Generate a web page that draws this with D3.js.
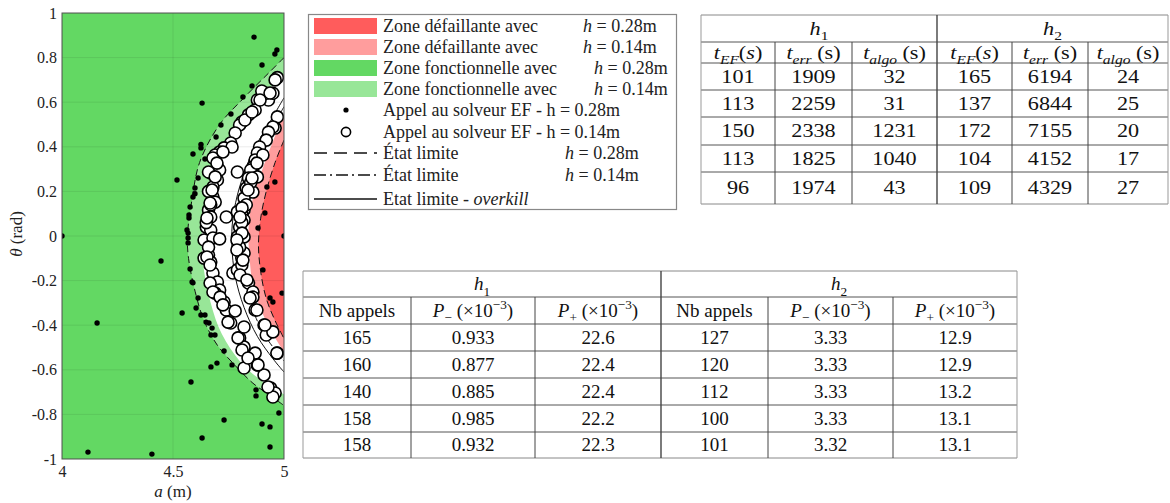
<!DOCTYPE html>
<html>
<head>
<meta charset="utf-8">
<script src="https://cdn.jsdelivr.net/npm/d3@7"></script>
<style>
  body { margin:0; background:#fff; }
  svg { display:block; }
  svg text { font-family:"Liberation Serif","DejaVu Serif","Noto Serif",serif; }
</style>
</head>
<body>
<svg id="fig" width="1170" height="503"></svg>
<script>
// ---- data: curves are [a (m), theta (rad)] ----
const limit28Outer = [[5.0,0.80],[4.93,0.73],[4.82,0.62],[4.71,0.50],[4.62,0.33],[4.585,0.16],[4.565,0.0],[4.57,-0.10],[4.60,-0.25],[4.64,-0.38],[4.70,-0.49],[4.77,-0.57],[4.86,-0.66],[4.93,-0.71],[5.0,-0.76]];
const zone14Green = [[5.0,0.72],[4.93,0.66],[4.84,0.57],[4.76,0.46],[4.69,0.33],[4.65,0.18],[4.63,0.02],[4.635,-0.12],[4.67,-0.30],[4.72,-0.44],[4.80,-0.56],[4.90,-0.65],[5.0,-0.71]];
const zone14Red = [[5.0,0.55],[4.96,0.45],[4.91,0.32],[4.86,0.17],[4.84,0.03],[4.845,-0.10],[4.86,-0.22],[4.90,-0.34],[4.95,-0.44],[5.0,-0.52]];
const limit28Inner = [[5.0,0.43],[4.96,0.33],[4.92,0.20],[4.895,0.08],[4.885,-0.04],[4.895,-0.16],[4.92,-0.28],[4.96,-0.38],[5.0,-0.46]];
const limitOverkill = [[5.0,0.62],[4.93,0.50],[4.86,0.38],[4.80,0.22],[4.77,0.08],[4.765,-0.04],[4.78,-0.18],[4.82,-0.32],[4.88,-0.45],[4.95,-0.55],[5.0,-0.61]];
const limit14 = [[5.0,0.58],[4.94,0.47],[4.88,0.34],[4.835,0.18],[4.815,0.03],[4.815,-0.10],[4.835,-0.24],[4.875,-0.37],[4.93,-0.47],[5.0,-0.56]];

// FE solver calls, h = 0.28 (black dots)
const calls28 = [
  [4.865,0.892],[4.968,0.834],[4.959,0.816],[4.901,0.767],[4.856,0.673],[4.815,0.623],[4.631,0.596],
  [4.761,0.547],[4.716,0.498],[4.694,0.444],[4.626,0.395],[4.590,0.368],[4.644,0.345],[4.518,0.251],
  [4.613,0.260],[4.599,0.215],[4.590,0.175],[4.577,0.130],[4.572,0.094],[4.572,0.081],[4.563,0.027],
  [4.568,0.013],[4.568,-0.009],[4.0,0.0],[5.0,0.0],[4.883,0.036],[4.959,0.242],[4.923,0.220],[4.914,0.103],
  [4.446,-0.112],[4.577,-0.148],[4.586,-0.206],[4.590,-0.210],[4.613,-0.278],[4.541,-0.345],[4.604,-0.323],
  [4.626,-0.354],[4.644,-0.354],[4.649,-0.386],[4.662,-0.390],[4.676,-0.413],[4.671,-0.444],[4.689,-0.444],
  [4.158,-0.390],[4.730,-0.516],[4.698,-0.570],[4.671,-0.587],[4.766,-0.578],[4.581,-0.655],[4.874,-0.690],
  [4.874,-0.717],[4.977,-0.794],[4.730,-0.825],[4.901,-0.843],[4.937,-0.856],[4.631,-0.906],[4.937,-0.946],
  [4.117,-0.969],[4.405,-0.978],[4.905,-0.152],[4.991,-0.256],[4.937,-0.278],[4.950,-0.296],[4.568,-0.031],
  [4.599,0.190],[4.626,0.410]
];
// FE solver calls, h = 0.14 (open circles)
const calls14 = [
  [4.97,0.71],[4.96,0.70],[4.93,0.61],[4.88,0.61],[4.92,0.64],[4.95,0.64],[4.90,0.65],[4.87,0.565],
  [4.84,0.543],[4.81,0.511],[4.80,0.498],[4.78,0.462],[4.76,0.417],[4.73,0.395],[4.71,0.377],[4.69,0.363],
  [4.68,0.35],[4.70,0.309],[4.67,0.283],[4.71,0.296],[4.70,0.251],[4.68,0.22],[4.68,0.175],[4.69,0.152],
  [4.66,0.117],[4.67,0.085],[4.65,0.04],[4.67,0.027],[4.64,-0.018],[4.68,-0.009],[4.71,-0.013],[4.74,0.085],
  [4.79,0.287],
  [4.97,0.534],[4.96,0.484],[4.95,0.489],[4.93,0.466],[4.92,0.43],[4.89,0.399],[4.88,0.372],[4.87,0.341],
  [4.86,0.309],[4.85,0.296],[4.88,0.265],[4.84,0.26],[4.83,0.215],[4.86,0.197],[4.82,0.17],[4.82,0.117],
  [4.81,0.103],[4.79,0.108],[4.82,0.072],[4.80,0.04],[4.79,-0.004],[4.82,-0.004],
  [4.66,-0.085],[4.67,-0.117],[4.64,-0.099],[4.68,-0.166],[4.70,-0.206],[4.71,-0.242],[4.69,-0.256],
  [4.73,-0.296],[4.74,-0.332],[4.78,-0.336],[4.76,-0.39],[4.80,-0.457],[4.82,-0.498],[4.84,-0.543],
  [4.82,-0.592],[4.88,-0.578],[4.91,-0.623],[4.94,-0.682],[4.96,-0.704],[4.95,-0.722],
  [4.77,-0.166],[4.79,-0.152],[4.81,-0.099],[4.82,-0.076],[4.84,-0.211],[4.86,-0.251],[4.86,-0.274],
  [4.87,-0.332],[4.82,-0.408],[4.91,-0.399],[4.92,-0.444],[4.87,-0.525],[4.97,-0.525],[4.95,-0.43],
  [4.66,0.20],[4.67,0.14],[4.65,0.06],[4.66,-0.05],[4.81,0.06],[4.80,-0.05],[4.81,-0.13],[4.83,0.14],[4.85,0.24],
  [4.698,0.327],[4.66,0.287],[4.69,0.265],[4.676,0.206],[4.667,0.148],[4.653,0.081],[4.766,0.399],[4.725,0.377],
  [4.824,0.52],[4.856,0.556],[4.892,0.61],[4.937,0.641],[4.905,0.363],[4.878,0.327],[4.856,0.26],[4.838,0.206],
  [4.811,0.126],[4.802,0.085],[4.811,0.013],[4.788,-0.018],
  [4.653,-0.094],[4.667,-0.13],[4.667,-0.211],[4.68,-0.251],[4.712,-0.274],[4.725,-0.309],[4.748,-0.386],
  [4.793,-0.457],[4.811,-0.511],[4.838,-0.547],[4.883,-0.578],[4.928,-0.677],[4.788,-0.063],[4.815,-0.108],
  [4.802,-0.175],[4.833,-0.197],[4.847,-0.278],[4.878,-0.332],[4.914,-0.399],[4.968,-0.525]
];

const xTicks = [4, 4.5, 5];
const xTickLabels = ["4", "4.5", "5"];
const yTicks = [-1, -0.8, -0.6, -0.4, -0.2, 0, 0.2, 0.4, 0.6, 0.8, 1];
const yTickLabels = ["-1", "-0.8", "-0.6", "-0.4", "-0.2", "0", "0.2", "0.4", "0.6", "0.8", "1"];

const legendLabels = ["Zone défaillante avec", "Zone défaillante avec", "Zone fonctionnelle avec", "Zone fonctionnelle avec",
  "Appel au solveur EF - h = 0.28m", "Appel au solveur EF - h = 0.14m", "État limite", "État limite", "Etat limite - "];
const legendMath = ["0.28m", "0.14m", "0.28m", "0.14m", null, null, "0.28m", "0.14m", null];

// tables
const t1Rows = [
  [101, 1909, 32, 165, 6194, 24],
  [113, 2259, 31, 137, 6844, 25],
  [150, 2338, 1231, 172, 7155, 20],
  [113, 1825, 1040, 104, 4152, 17],
  [96, 1974, 43, 109, 4329, 27]
];
const t2Rows = [
  ["165", "0.933", "22.6", "127", "3.33", "12.9"],
  ["160", "0.877", "22.4", "120", "3.33", "12.9"],
  ["140", "0.885", "22.4", "112", "3.33", "13.2"],
  ["158", "0.985", "22.2", "100", "3.33", "13.1"],
  ["158", "0.932", "22.3", "101", "3.32", "13.1"]
];

// ---- drawing ----
const svg = d3.select("#fig");
const C = { red: "#ff5c5c", lred: "#ff9d9d", green: "#63d863", lgreen: "#98e698" };
const FONT = "'Liberation Serif','DejaVu Serif','Noto Serif',serif";

const x = d3.scaleLinear().domain([4, 5]).range([62, 284]);
const y = d3.scaleLinear().domain([-1, 1]).range([459, 13]);
const line = d3.line().x(d => x(d[0])).y(d => y(d[1])).curve(d3.curveCatmullRom);

svg.append("clipPath").attr("id", "plotclip")
  .append("rect").attr("x", x(4)).attr("y", y(1)).attr("width", x(5) - x(4)).attr("height", y(-1) - y(1));

const plot = svg.append("g").attr("clip-path", "url(#plotclip)");
plot.append("rect").attr("x", x(4)).attr("y", y(1)).attr("width", x(5) - x(4)).attr("height", y(-1) - y(1)).attr("fill", C.green);

// each zone = area to the right of its boundary, closed along a = 5
[[limit28Outer, C.lgreen], [zone14Green, "#fff"], [zone14Red, C.lred], [limit28Inner, C.red]].forEach(([pts, col]) => {
  plot.append("path").attr("d", line(pts) + "Z").attr("fill", col);
});

// grid
plot.selectAll("line.gy").data(yTicks).join("line").attr("class", "gy")
  .attr("x1", x(4)).attr("x2", x(5)).attr("y1", d => y(d)).attr("y2", d => y(d))
  .attr("stroke", "#000").attr("stroke-opacity", 0.08);
plot.selectAll("line.gx").data(xTicks).join("line").attr("class", "gx")
  .attr("x1", d => x(d)).attr("x2", d => x(d)).attr("y1", y(1)).attr("y2", y(-1))
  .attr("stroke", "#000").attr("stroke-opacity", 0.08);

// limit states
const ls = (pts, dash) => plot.append("path").attr("d", line(pts)).attr("fill", "none")
  .attr("stroke", "#111").attr("stroke-width", 1).attr("stroke-dasharray", dash);
ls(limit28Outer, "7,4");
ls(limit28Inner, "7,4");
ls(limit14, "7,3,1.5,3");
ls(limitOverkill, null);

plot.selectAll("circle.c28").data(calls28).join("circle").attr("class", "c28")
  .attr("cx", d => x(d[0])).attr("cy", d => y(d[1])).attr("r", 2.7).attr("fill", "#000");
plot.selectAll("circle.c14").data(calls14).join("circle").attr("class", "c14")
  .attr("cx", d => x(d[0])).attr("cy", d => y(d[1])).attr("r", 6)
  .attr("fill", "#fff").attr("stroke", "#000").attr("stroke-width", 1.6);

// frame + axes
svg.append("rect").attr("x", x(4)).attr("y", y(1)).attr("width", x(5) - x(4)).attr("height", y(-1) - y(1))
  .attr("fill", "none").attr("stroke", "#555").attr("stroke-width", 1);

const ax = svg.append("g").attr("transform", `translate(0,${y(-1)})`)
  .call(d3.axisBottom(x).tickValues(xTicks).tickFormat((d, i) => xTickLabels[i]).tickSize(0).tickPadding(7));
const ay = svg.append("g").attr("transform", `translate(${x(4)},0)`)
  .call(d3.axisLeft(y).tickValues(yTicks).tickFormat((d, i) => yTickLabels[i]).tickSize(0).tickPadding(5));
[ax, ay].forEach(g => {
  g.attr("font-family", FONT);
  g.select(".domain").remove();
  g.selectAll("text").attr("font-size", 16).attr("fill", "#222");
});

const xl = svg.append("text").attr("x", x(4.5)).attr("y", 497).attr("text-anchor", "middle").attr("font-size", 17).attr("fill", "#222");
xl.append("tspan").attr("font-style", "italic").text("a");
xl.append("tspan").text(" (m)");
const yl = svg.append("text").attr("transform", `translate(22,${y(0) - 2}) rotate(-90)`).attr("text-anchor", "middle").attr("font-size", 17).attr("fill", "#222");
yl.append("tspan").attr("font-style", "italic").text("θ");
yl.append("tspan").text(" (rad)");

// ---- legend ----
const lg = svg.append("g");
lg.append("rect").attr("x", 308.5).attr("y", 14.5).attr("width", 368).attr("height", 195)
  .attr("fill", "#fff").attr("stroke", "#888").attr("stroke-width", 1.2);
const rowY = [26, 47, 68, 89, 110, 132, 153, 175, 199];
const swCols = [C.red, C.lred, C.green, C.lgreen];
swCols.forEach((c, i) => lg.append("rect").attr("x", 314).attr("y", rowY[i] - 8).attr("width", 63).attr("height", 16).attr("fill", c));
lg.append("circle").attr("cx", 346).attr("cy", rowY[4]).attr("r", 2.6).attr("fill", "#000");
lg.append("circle").attr("cx", 346).attr("cy", rowY[5]).attr("r", 4.6).attr("fill", "#fff").attr("stroke", "#000").attr("stroke-width", 1.6);
[["13,7"], ["12,4,2,4"], [null]].forEach(([dash], i) => {
  lg.append("line").attr("x1", 314).attr("x2", 377).attr("y1", rowY[6 + i]).attr("y2", rowY[6 + i])
    .attr("stroke", "#111").attr("stroke-width", 1.3).attr("stroke-dasharray", dash);
});
const mathX = [583, 583, 594, 594, null, null, 565, 565, null];
legendLabels.forEach((lab, i) => {
  const t = lg.append("text").attr("x", 383).attr("y", rowY[i] + 6).attr("font-size", 18).attr("fill", "#222").text(lab);
  if (i === 8) t.append("tspan").attr("font-style", "italic").text("overkill");
  if (legendMath[i]) {
    const m = lg.append("text").attr("x", mathX[i]).attr("y", rowY[i] + 6).attr("font-size", 18).attr("fill", "#222");
    m.append("tspan").attr("font-style", "italic").text("h");
    m.append("tspan").text(" = " + legendMath[i]);
  }
});

// ---- tables ----
function rich(text, parts, fs) {
  let shift = 0;
  parts.forEach(p => {
    const target = p.sub ? fs * 0.28 : p.sup ? -fs * 0.42 : 0;
    text.append("tspan").attr("dy", target - shift)
      .attr("font-style", p.i ? "italic" : "normal")
      .attr("font-size", (p.sub || p.sup) ? fs * 0.7 : fs).text(p.t);
    shift = target;
  });
}

function drawTable(spec) {
  const g = svg.append("g");
  const { cols, rows, groups, heads, data, fs, sx } = spec;
  const cell = (cx, cy, parts) => {
    const t = g.append("text").attr("text-anchor", "middle").attr("fill", "#111").attr("font-size", fs)
      .attr("transform", `translate(${cx},${cy + fs * 0.33}) scale(${sx},1)`);
    rich(t, parts, fs);
  };
  rows.forEach((ry, i) => g.append("line").attr("x1", cols[0]).attr("x2", cols[cols.length - 1]).attr("y1", ry).attr("y2", ry)
    .attr("stroke", i === 0 || i === rows.length - 1 ? "#888" : "#555").attr("stroke-width", 1));
  cols.forEach((cx, i) => {
    const mid = i === 3;
    g.append("line").attr("x1", cx).attr("x2", cx).attr("y1", (i === 0 || i === 6 || mid) ? rows[0] : rows[1]).attr("y2", rows[rows.length - 1])
      .attr("stroke", (i === 0 || i === 6) ? "#999" : "#444").attr("stroke-width", mid ? 1.4 : 1);
  });
  groups.forEach((gp, k) => cell((cols[k * 3] + cols[k * 3 + 3]) / 2, (rows[0] + rows[1]) / 2, gp));
  heads.forEach((h, j) => cell((cols[j] + cols[j + 1]) / 2, (rows[1] + rows[2]) / 2, h));
  data.forEach((r, i) => r.forEach((v, j) => cell((cols[j] + cols[j + 1]) / 2, (rows[i + 2] + rows[i + 3]) / 2, [{ t: String(v) }])));
}

const hGroups = [[{ t: "h", i: true }, { t: "1", sub: true }], [{ t: "h", i: true }, { t: "2", sub: true }]];
const t1Heads = [
  [{ t: "t", i: true }, { t: "EF", i: true, sub: true }, { t: "(" }, { t: "s", i: true }, { t: ")" }],
  [{ t: "t", i: true }, { t: "err", i: true, sub: true }, { t: " (s)" }],
  [{ t: "t", i: true }, { t: "algo", i: true, sub: true }, { t: " (s)" }]
];
const t2Heads = [
  [{ t: "Nb appels" }],
  [{ t: "P", i: true }, { t: "−", sub: true }, { t: " (×10" }, { t: "−3", sup: true }, { t: ")" }],
  [{ t: "P", i: true }, { t: "+", sub: true }, { t: " (×10" }, { t: "−3", sup: true }, { t: ")" }]
];

drawTable({
  cols: [701, 775, 852, 937, 1012, 1088, 1168],
  rows: [15, 42, 63, 90, 117, 145, 172, 204],
  groups: hGroups, heads: t1Heads.concat(t1Heads), data: t1Rows, fs: 18.5, sx: 1.2
});
drawTable({
  cols: [303, 411, 535, 661, 768, 893, 1017],
  rows: [271, 297, 324, 351, 378, 405, 432, 458],
  groups: hGroups, heads: t2Heads.concat(t2Heads), data: t2Rows, fs: 19, sx: 1.0
});
</script>
</body>
</html>
